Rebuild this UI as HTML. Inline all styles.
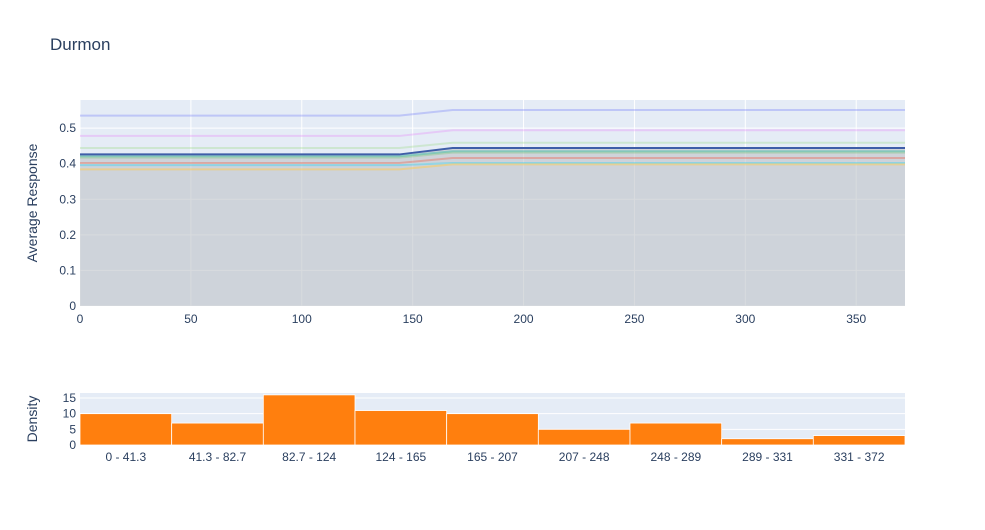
<!DOCTYPE html>
<html><head><meta charset="utf-8"><style>
body{margin:0;background:#fff;font-family:"Liberation Sans",sans-serif;}
svg text{font-family:"Liberation Sans",sans-serif;fill:#2a3f5f;}
</style></head><body>
<svg id="c" width="985" height="525"></svg>
<script>
const xKnots=[0,144,168,372];
const meanVals=[0.426,0.426,0.444,0.444];
const iceBefore=[0.535,0.478,0.444,0.421,0.417,0.402,0.396,0.384];
const iceAfter=[0.551,0.494,0.459,0.435,0.431,0.416,0.402,0.398];
const iceColors=['rgba(99,110,250,0.3)','rgba(230,140,250,0.35)','rgba(160,220,140,0.35)','rgba(0,180,150,0.35)','rgba(120,200,120,0.35)','rgba(239,85,59,0.35)','rgba(25,210,243,0.35)','rgba(254,203,82,0.5)'];
const xTicks=[0,50,100,150,200,250,300,350];
const yTicks=[0,0.1,0.2,0.3,0.4,0.5];
const binLabels=['0 - 41.3','41.3 - 82.7','82.7 - 124','124 - 165','165 - 207','207 - 248','248 - 289','289 - 331','331 - 372'];
const density=[10,7,16,11,10,5,7,2,3];
const dTicks=[0,5,10,15];
const NS='http://www.w3.org/2000/svg',svg=document.getElementById('c');
function mk(t,a,p){const e=document.createElementNS(NS,t);for(const k in a)e.setAttribute(k,a[k]);(p||svg).appendChild(e);return e;}
const X0=80,X1=905,Y0=306,Y1=100;
const sx=v=>X0+v/372*(X1-X0), sy=v=>Y0-v/0.579*(Y0-Y1);
let r=mk('rect',{x:X0,y:Y1,width:X1-X0,height:Y0-Y1,fill:'#e5ecf6'});

xTicks.forEach(v=>{let l=mk('line',{x1:sx(v),x2:sx(v),y1:Y1,y2:Y0,stroke:'#fff'});
let t=mk('text',{x:sx(v),y:Y0+17,'text-anchor':'middle','font-size':12});t.textContent=v;});
yTicks.forEach(v=>{let l=mk('line',{x1:X0,x2:X1,y1:sy(v),y2:sy(v),stroke:'#fff'});
let t=mk('text',{x:X0-4,y:sy(v)+4,'text-anchor':'end','font-size':12});t.textContent=v;});
let fp='M'+sx(0)+','+sy(0)+xKnots.map((x,i)=>'L'+sx(x)+','+sy(meanVals[i])).join('')+'L'+sx(372)+','+sy(0)+'Z';
let f=mk('path',{d:fp,fill:'rgba(190,195,200,0.6)'});
iceBefore.forEach((b,i)=>{const vals=[b,b,iceAfter[i],iceAfter[i]];
let p=mk('path',{d:xKnots.map((x,j)=>(j?'L':'M')+sx(x)+','+sy(vals[j])).join(''),fill:'none',stroke:iceColors[i],'stroke-width':2});
});
let m=mk('path',{d:xKnots.map((x,j)=>(j?'L':'M')+sx(x)+','+sy(meanVals[j])).join(''),fill:'none',stroke:'#3f5ea8','stroke-width':2});

let yt=mk('text',{x:37,y:203,'text-anchor':'middle','font-size':14,transform:'rotate(-90 37 203)'});yt.textContent='Average Response';
let tt=mk('text',{x:50,y:50,'font-size':17});tt.textContent='Durmon';
// histogram
const H0=445,H1=393,hy=v=>H0-v/16.6*(H0-H1),bw=(X1-X0)/density.length;
let hr=mk('rect',{x:X0,y:H1,width:X1-X0,height:H0-H1,fill:'#e5ecf6'});
dTicks.forEach(v=>{let l=mk('line',{x1:X0,x2:X1,y1:hy(v),y2:hy(v),stroke:'#fff'});
let t=mk('text',{x:X0-4,y:hy(v)+4,'text-anchor':'end','font-size':12});t.textContent=v;});
density.forEach((d,i)=>{let b=mk('rect',{x:X0+i*bw,y:hy(d),width:bw,height:H0-hy(d),fill:'#ff7f0e',stroke:'#fff','stroke-width':0.8});
let t=mk('text',{x:X0+(i+0.5)*bw,y:H0+16,'text-anchor':'middle','font-size':12});t.textContent=binLabels[i];});
let dt=mk('text',{x:37,y:419,'text-anchor':'middle','font-size':14,transform:'rotate(-90 37 419)'});dt.textContent='Density';
</script></body></html>
